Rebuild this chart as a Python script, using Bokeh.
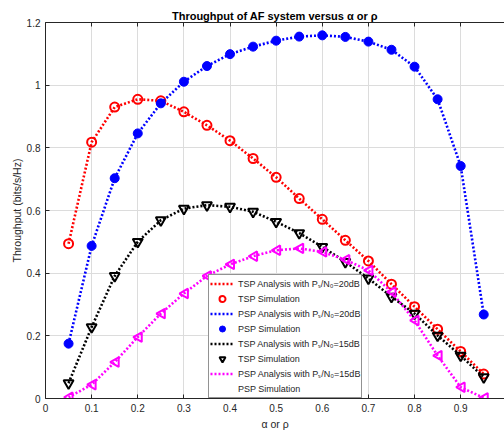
import numpy as np
from bokeh.plotting import figure
from bokeh.models import (Range1d, FixedTicker, CustomJSTickFormatter, LinearAxis,
                          Legend, LegendItem, PolyAnnotation)
from bokeh.embed import file_html
from bokeh.resources import INLINE

x = [0.05, 0.10, 0.15, 0.20, 0.25, 0.30, 0.35, 0.40, 0.45, 0.50,
     0.55, 0.60, 0.65, 0.70, 0.75, 0.80, 0.85, 0.90, 0.95]
tsp20 = [0.494, 0.818, 0.930, 0.955, 0.950, 0.915, 0.872, 0.823, 0.766, 0.706,
         0.638, 0.572, 0.505, 0.439, 0.365, 0.293, 0.221, 0.150, 0.078]
psp20 = [0.175, 0.487, 0.703, 0.846, 0.942, 1.011, 1.061, 1.099, 1.123, 1.142,
         1.155, 1.159, 1.154, 1.139, 1.113, 1.059, 0.955, 0.742, 0.268]
tsp15 = [0.049, 0.228, 0.391, 0.500, 0.569, 0.606, 0.617, 0.612, 0.596, 0.564,
         0.528, 0.484, 0.436, 0.383, 0.325, 0.271, 0.201, 0.137, 0.068]
psp15 = [0.004, 0.044, 0.116, 0.196, 0.271, 0.335, 0.391, 0.428, 0.454, 0.473,
         0.479, 0.468, 0.443, 0.409, 0.340, 0.249, 0.137, 0.036, 0.002]
x_ticks = [0, 0.1, 0.2, 0.3, 0.4, 0.5, 0.6, 0.7, 0.8, 0.9, 1.0]
y_ticks = [0, 0.2, 0.4, 0.6, 0.8, 1.0, 1.2]
labels = ["TSP Analysis with P\u209B/N\u2080=20dB", "TSP Simulation",
          "PSP Analysis with P\u209B/N\u2080=20dB", "PSP Simulation",
          "TSP Analysis with P\u209B/N\u2080=15dB", "TSP Simulation",
          "PSP Analysis with P\u209B/N\u2080=15dB", "PSP Simulation"]

FONT = "Liberation Sans"
AX = "#262626"
X_END = 0.995
FRAME_W, FRAME_H = 459.0, 376.0

p = figure(width=504, height=432, output_backend="svg", toolbar_location=None,
           x_range=Range1d(0, X_END), y_range=Range1d(0, 1.2),
           min_border_left=45, min_border_right=0, min_border_top=22,
           min_border_bottom=30)
p.title.text = "Throughput of AF system versus \u03b1 or \u03c1"
p.title.align = "center"
p.title.text_font = FONT
p.title.text_font_size = "11px"
p.title.text_font_style = "bold"
p.title.text_color = "#000000"
p.title.standoff = 2
p.outline_line_color = None

fmt = CustomJSTickFormatter(code="return Number(tick.toFixed(2)).toString();")
for ax, ticks in ((p.xaxis[0], x_ticks), (p.yaxis[0], y_ticks)):
    ax.ticker = FixedTicker(ticks=ticks)
    ax.formatter = fmt
    ax.major_tick_in = 4
    ax.major_tick_out = 0
    ax.minor_tick_line_color = None
    ax.axis_line_color = AX
    ax.major_tick_line_color = AX
    ax.major_label_text_font = FONT
    ax.major_label_text_font_size = "10px"
    ax.major_label_text_color = AX
    ax.axis_label_text_font = FONT
    ax.axis_label_text_font_size = "10.5px"
    ax.axis_label_text_color = AX
    ax.axis_label_text_font_style = "normal"
p.xaxis[0].axis_label = "\u03b1 or \u03c1"
p.yaxis[0].axis_label = "Throughput (bits/s/Hz)"
p.xaxis[0].major_label_standoff = 5
p.yaxis[0].major_label_standoff = 5
p.xaxis[0].axis_label_standoff = 3
p.yaxis[0].axis_label_standoff = 1

top = LinearAxis(ticker=FixedTicker(ticks=x_ticks), major_tick_in=4, major_tick_out=0,
                 minor_tick_line_color=None, axis_line_color=AX,
                 major_tick_line_color=AX,
                 formatter=CustomJSTickFormatter(code="return '';"),
                 major_label_standoff=0)
p.add_layout(top, "above")

for g in (p.xgrid[0], p.ygrid[0]):
    g.grid_line_color = "#dcdcdc"
p.xgrid[0].ticker = FixedTicker(ticks=x_ticks)
p.ygrid[0].ticker = FixedTicker(ticks=y_ticks)

LW = 2.6
DASH = "2 2"
MS = 9
r_l1 = p.line(x, tsp20, line_color="#ff0000", line_width=LW, line_dash=DASH)
r_m1 = p.scatter(x, tsp20, marker="circle", size=MS, fill_color=None,
                 line_color="#ff0000", line_width=2)
r_l2 = p.line(x, psp20, line_color="#0000ff", line_width=LW, line_dash=DASH)
r_m2 = p.scatter(x, psp20, marker="circle", size=MS, fill_color="#0000ff",
                 line_color="#0000ff", line_width=1)
r_l3 = p.line(x, tsp15, line_color="#000000", line_width=LW, line_dash=DASH)
r_m3 = p.scatter(x, tsp15, marker="inverted_triangle", size=MS + 1, fill_color=None,
                 line_color="#000000", line_width=2)
r_l4 = p.line(x, psp15, line_color="#ff00ff", line_width=LW, line_dash=DASH)

# left-pointing triangle markers (shape offsets in pixels around each data point)
ux = X_END / FRAME_W     # data units per pixel, x
uy = 1.2 / FRAME_H       # data units per pixel, y
tri_dx = [-4.5, 4.0, 4.0]
tri_dy = [0.0, 4.8, -4.8]
xs = [[xi + d * ux for d in tri_dx] for xi in x]
ys = [[yi + d * uy for d in tri_dy] for yi in psp15]
p.patches(xs, ys, fill_color=None, line_color="#ff00ff", line_width=2)
# legend entry placeholder (label only)
r_m4 = p.scatter(x=[], y=[], marker="triangle", size=MS + 1,
                 fill_color=None, line_color="#ff00ff", line_width=2)

LEG_X, LEG_Y, PAD, GW, GH = 163, 0, 1, 24, 15
rends = [r_l1, r_m1, r_l2, r_m2, r_l3, r_m3, r_l4, r_m4]
legend = Legend(items=[LegendItem(label=l, renderers=[r]) for l, r in zip(labels, rends)],
                location=(LEG_X, LEG_Y))
legend.label_text_font = FONT
legend.label_text_font_size = "9px"
legend.label_text_color = AX
legend.glyph_width = GW
legend.glyph_height = GH
legend.label_height = GH
legend.spacing = 0
legend.padding = PAD
legend.margin = 0
legend.label_standoff = 4
legend.border_line_color = AX
legend.border_line_width = 1
legend.background_fill_alpha = 1
p.add_layout(legend, "center")

# triangle glyph for the last legend row, drawn on top of the legend
gx = (LEG_X + PAD + GW / 2) * ux
gy = (LEG_Y + PAD + GH / 2) * uy
leg_tri = PolyAnnotation(xs=[gx + d * ux for d in tri_dx], ys=[gy + d * uy for d in tri_dy],
                         fill_alpha=0, line_color="#ff00ff", line_width=2, line_alpha=1,
                         level="overlay")
p.add_layout(leg_tri)

open("out.html", "w").write(file_html(p, INLINE))
